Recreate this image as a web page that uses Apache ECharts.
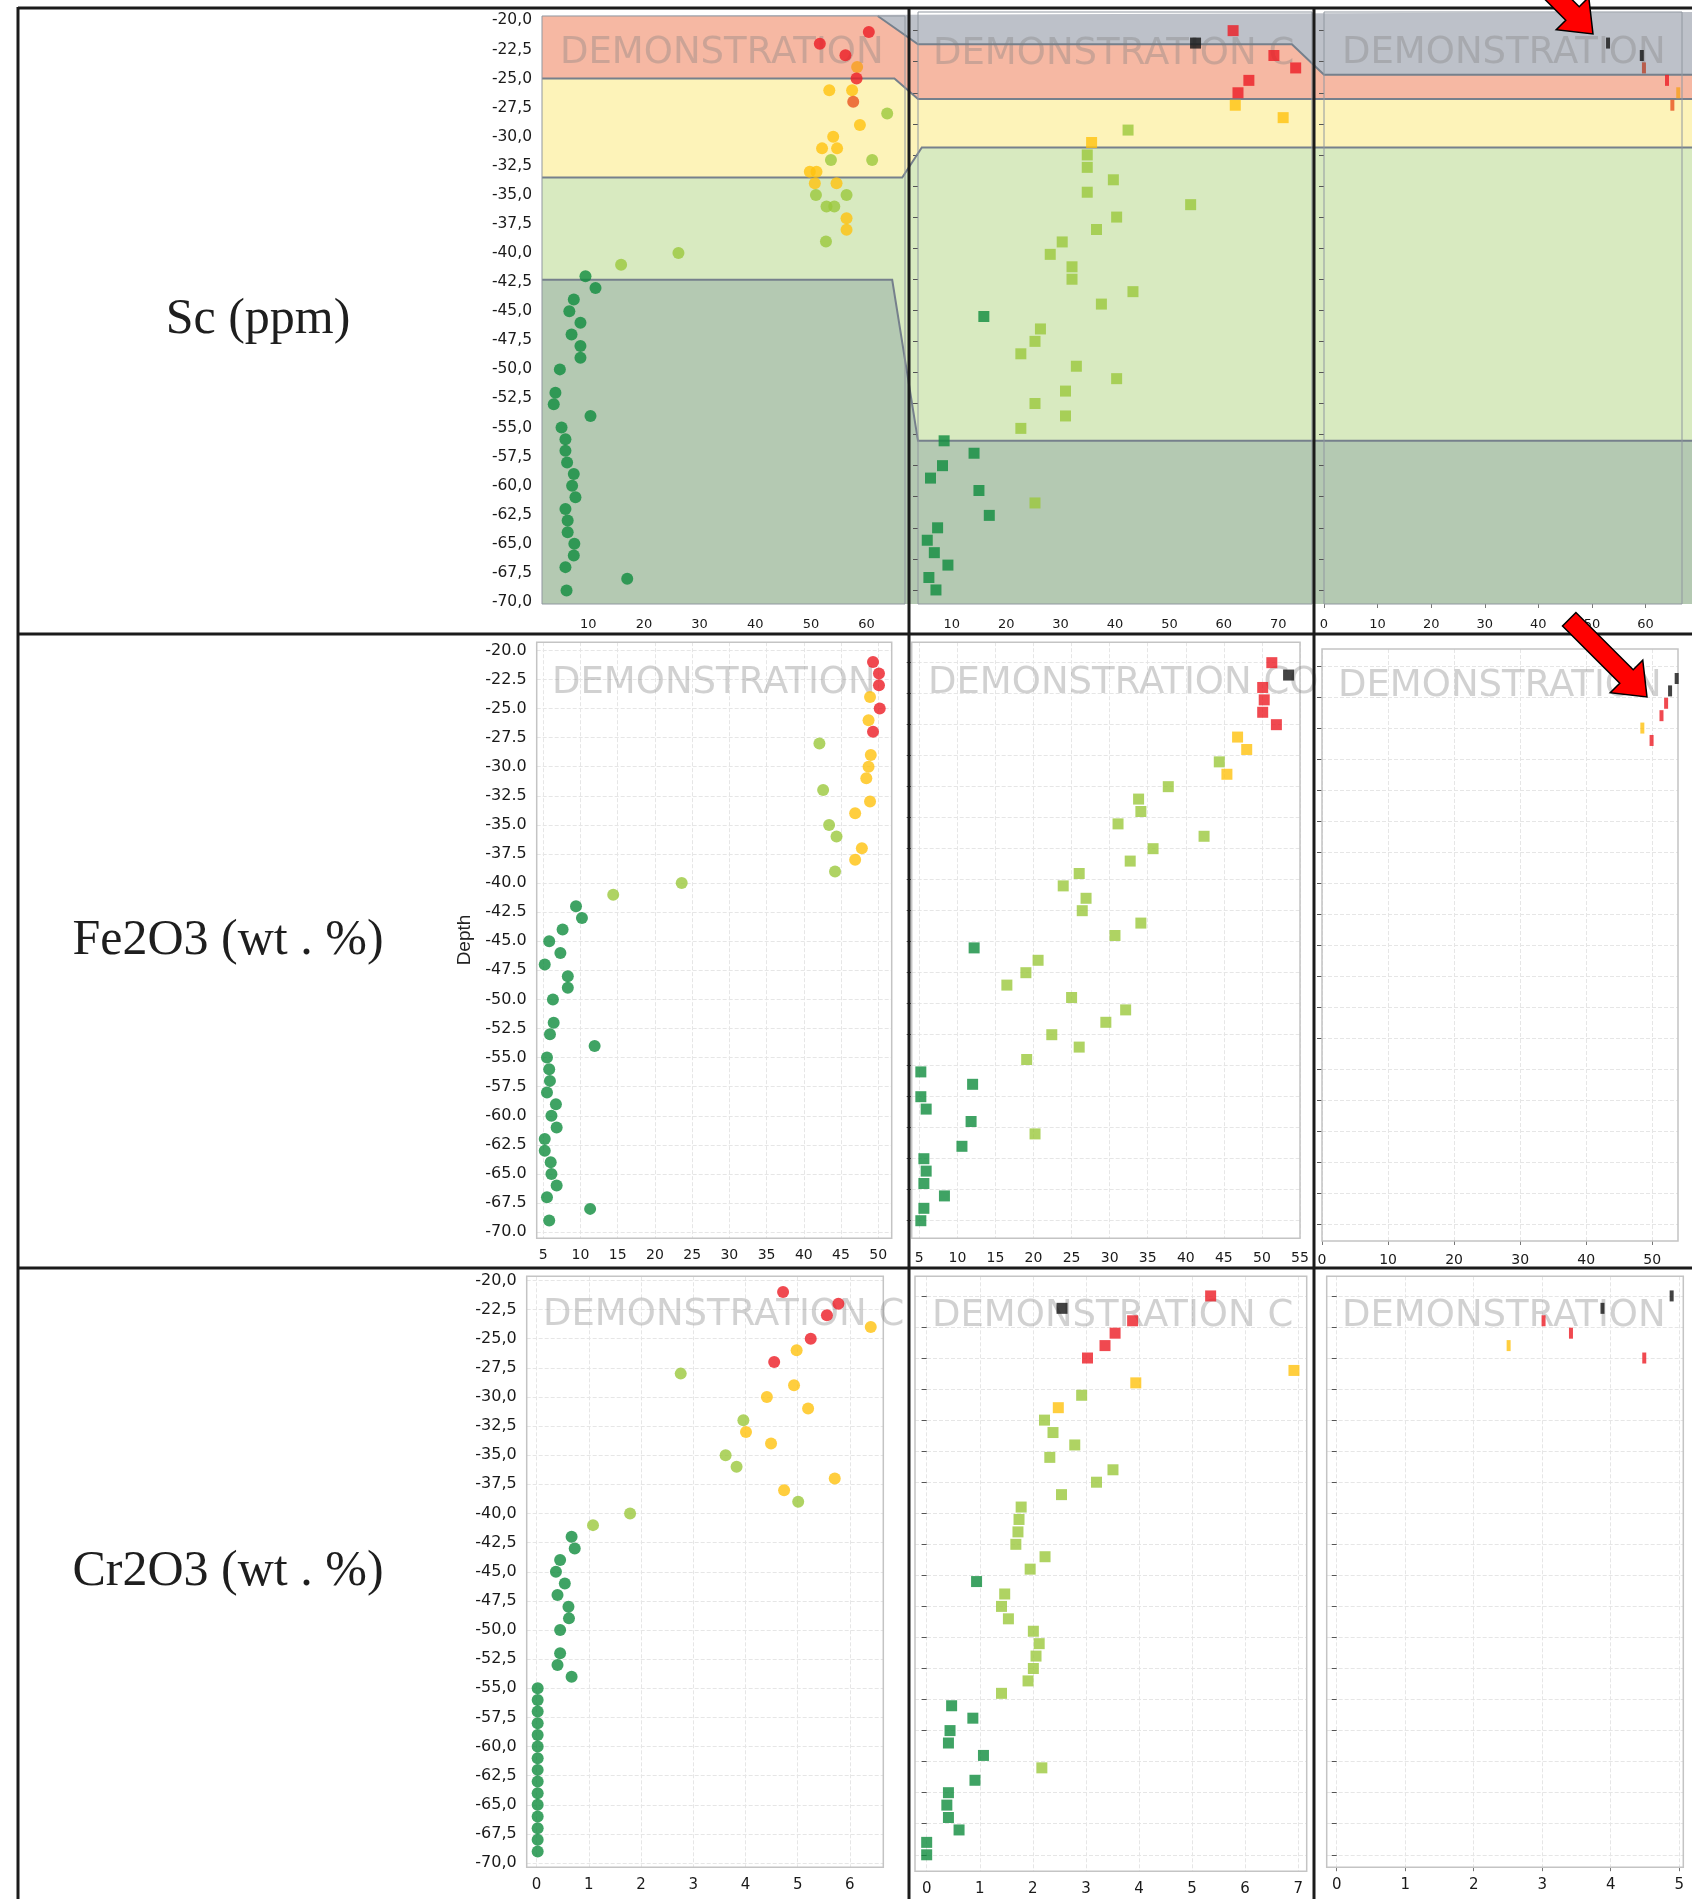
<!DOCTYPE html>
<html>
<head>
<meta charset="utf-8">
<script src="https://cdn.jsdelivr.net/npm/echarts@6/dist/echarts.min.js"></script>
<style>
html, body { margin: 0; padding: 0; background: #fff; }
#chart { width: 1692px; height: 1899px; }
</style>
</head>
<body>
<div id="chart"></div>
<script>
var chartDom = document.getElementById('chart');
var myChart = echarts.init(chartDom);

var rowLabels = ['Sc (ppm)', 'Fe2O3 (wt . %)', 'Cr2O3 (wt . %)'];
var watermark = 'DEMONSTRATION COPY';

// tick labels
var depthTicks = [-20, -22.5, -25, -27.5, -30, -32.5, -35, -37.5, -40, -42.5, -45, -47.5, -50, -52.5, -55, -57.5, -60, -62.5, -65, -67.5, -70];
var depthTicksShort = [-20, -22.5, -25, -27.5, -30, -32.5, -35, -37.5, -40, -42.5, -45, -47.5, -50, -52.5, -55, -57.5, -60, -62.5, -65];
var xTicks = [
  [10, 20, 30, 40, 50, 60], [10, 20, 30, 40, 50, 60, 70], [0, 10, 20, 30, 40, 50, 60],
  [5, 10, 15, 20, 25, 30, 35, 40, 45, 50], [5, 10, 15, 20, 25, 30, 35, 40, 45, 50, 55], [0, 10, 20, 30, 40, 50],
  [0, 1, 2, 3, 4, 5, 6], [0, 1, 2, 3, 4, 5, 6, 7], [0, 1, 2, 3, 4, 5]
];

// circles (first hole): Sc has some repeated depths, so kept as [value, depth, class]
var scCircles = [
  [60.4, -21, 'r'], [51.6, -22, 'r'], [56.2, -23, 'r'], [58.3, -24, 'o'], [58.2, -25, 'r'],
  [53.3, -26, 'y'], [57.4, -26, 'y'], [57.6, -27, 'x'], [63.7, -28, 'g'], [58.8, -29, 'y'],
  [54.0, -30, 'y'], [52.0, -31, 'y'], [54.7, -31, 'y'], [53.6, -32, 'g'], [61.0, -32, 'g'],
  [49.8, -33, 'y'], [51.0, -33, 'y'], [50.7, -34, 'y'], [54.6, -34, 'y'], [50.9, -35, 'g'],
  [56.4, -35, 'g'], [52.8, -36, 'g'], [54.2, -36, 'g'], [56.4, -37, 'y'], [56.4, -38, 'y'],
  [52.7, -39, 'g'], [26.2, -40, 'g'], [15.9, -41, 'g'], [9.5, -42, 'd'], [11.3, -43, 'd'],
  [7.4, -44, 'd'], [6.6, -45, 'd'], [8.6, -46, 'd'], [7.0, -47, 'd'], [8.6, -48, 'd'],
  [8.6, -49, 'd'], [4.9, -50, 'd'], [4.1, -52, 'd'], [3.8, -53, 'd'], [10.4, -54, 'd'],
  [5.2, -55, 'd'], [5.9, -56, 'd'], [5.9, -57, 'd'], [6.2, -58, 'd'], [7.4, -59, 'd'],
  [7.1, -60, 'd'], [7.7, -61, 'd'], [5.9, -62, 'd'], [6.3, -63, 'd'], [6.3, -64, 'd'],
  [7.5, -65, 'd'], [7.4, -66, 'd'], [5.9, -67, 'd'], [17.0, -68, 'd'], [6.1, -69, 'd']
];
var circleDepths = [-21, -22, -23, -24, -25, -26, -27, -28, -29, -30, -31, -32, -33, -34, -35, -36, -37, -38, -39, -40,
  -41, -42, -43, -44, -45, -46, -47, -48, -49, -50, -52, -53, -54, -55, -56, -57, -58, -59, -60, -61,
  -62, -63, -64, -65, -66, -67, -68, -69];
var circleClass = 'rrryryrgyyygyyggyygggddddddddddddddddddddddddddd';
var feCircles = [49.3, 50.1, 50.1, 48.9, 50.2, 48.7, 49.3, 42.1, 49.0, 48.7, 48.4, 42.6, 48.9, 46.9, 43.4, 44.4, 47.8, 46.9, 44.2, 23.6,
  14.4, 9.4, 10.2, 7.6, 5.8, 7.3, 5.2, 8.3, 8.3, 6.3, 6.4, 5.9, 11.9, 5.5, 5.8, 5.9, 5.5, 6.7, 6.1, 6.8,
  5.2, 5.2, 6.0, 6.1, 6.8, 5.5, 11.3, 5.8];
var crCircles = [4.72, 5.78, 5.56, 6.40, 5.25, 4.98, 4.55, 2.76, 4.93, 4.41, 5.20, 3.96, 4.01, 4.49, 3.62, 3.83, 5.71, 4.74, 5.01, 1.79,
  1.08, 0.67, 0.73, 0.45, 0.37, 0.54, 0.40, 0.61, 0.62, 0.45, 0.45, 0.40, 0.67, 0.02, 0.02, 0.02, 0.02, 0.02, 0.02, 0.02,
  0.02, 0.02, 0.02, 0.02, 0.02, 0.02, 0.02, 0.02];

// squares (second hole)
var squareDepths = [-20, -21, -22, -23, -24, -25, -26, -27, -28, -29, -30, -31, -32, -33, -34, -35, -36, -37, -38, -39,
  -40, -41, -42, -43, -44, -45, -46, -47, -48, -49, -50, -51, -52, -53, -54, -55, -56, -57, -58, -59,
  -60, -61, -62, -63, -64, -65];
var squareClass = 'rkrrrryygygggggggggggggdgggggggggdddddgddddddd';
var scSquares = [61.7, 54.8, 69.2, 73.2, 64.6, 62.6, 62.1, 70.9, 42.4, 35.7, 34.9, 34.9, 39.7, 34.9, 53.9, 40.3, 36.6, 30.3, 28.1, 32.1,
  32.1, 43.3, 37.5, 15.9, 26.3, 25.3, 22.7, 32.9, 40.3, 30.9, 25.3, 30.9, 22.7, 8.6, 14.1, 8.3, 6.1, 15.0, 25.3, 16.9,
  7.4, 5.5, 6.8, 9.3, 5.8, 7.1];
var feSquares = [51.3, 53.5, 50.1, 50.3, 50.1, 51.9, 46.8, 48.0, 44.4, 45.4, 37.7, 33.8, 34.1, 31.1, 42.4, 35.7, 32.7, 26.0, 23.9, 26.9,
  26.4, 34.1, 30.7, 12.2, 20.6, 19.0, 16.5, 25.0, 32.1, 29.5, 22.4, 26.0, 19.1, 5.2, 12.0, 5.2, 5.9, 11.8, 20.2, 10.6,
  5.6, 5.9, 5.6, 8.3, 5.6, 5.2];
var crSquares = [5.35, 2.55, 3.88, 3.55, 3.36, 3.03, 6.92, 3.94, 2.92, 2.48, 2.22, 2.38, 2.79, 2.32, 3.51, 3.20, 2.54, 1.78, 1.74, 1.72,
  1.68, 2.23, 1.95, 0.94, 1.47, 1.41, 1.54, 2.01, 2.12, 2.06, 2.01, 1.91, 1.41, 0.47, 0.87, 0.44, 0.41, 1.07, 2.17, 0.91,
  0.41, 0.38, 0.41, 0.61, 0.0, 0.0];

// thin bars (third hole)
var scBars = [[53.0, -21, 'k'], [59.3, -22, 'k'], [59.7, -23, 'b'], [64.0, -24, 'r'], [66.1, -25, 'o'], [65.0, -26, 'x']];
var feBars = [[53.7, -21, 'k'], [52.7, -22, 'k'], [52.1, -23, 'r'], [51.4, -24, 'r'], [48.5, -25, 'y'], [49.9, -26, 'r']];
var crBars = [[4.89, -20, 'k'], [3.88, -21, 'k'], [3.02, -22, 'r'], [3.42, -23, 'r'], [2.51, -24, 'y'], [4.49, -25, 'r']];

// Sc row zone boundaries: [panel, value, depth]
var zoneLines = [
  [[0, 1.69, -19.62], [2, 68.7, -18.5]],
  [[0, 1.69, -19.62], [0, 62.0, -19.62], [1, 3.8, -21.1], [1, 72.5, -21.1], [2, 0, -23.55], [2, 68.7, -23.55]],
  [[0, 1.69, -25.0], [0, 65.0, -25.0], [1, 3.8, -25.5], [2, 68.7, -25.5]],
  [[0, 1.69, -33.5], [0, 66.4, -33.5], [1, 4.5, -29.4], [2, 68.7, -29.4]],
  [[0, 1.69, -42.3], [0, 64.6, -42.3], [1, 3.8, -53.0], [2, 68.7, -53.0]],
  [[0, 1.69, -70.17], [2, 68.7, -66.13]]
];
var zoneColors = ['#bdc1c9', '#f6b8a3', '#fdf3b9', '#d8eac0', '#b4c9b2'];

var classColor = { r: '#ec1c24', y: '#ffc20e', o: '#f7a01d', x: '#e9531f', g: '#9bc83c', d: '#0f8c3d', k: '#141414', b: '#b8442c' };

// panel plot areas (pixels) and axis ranges
var panels = [
  { l: 542, t: 16, r: 905, b: 604, x0: 1.69, x1: 66.9, y0: -70.17, y1: -19.62 },
  { l: 918, t: 12, r: 1312, b: 604, x0: 3.8, x1: 76.2, y0: -66.13, y1: -18.5 },
  { l: 1324, t: 12, r: 1682, b: 604, x0: 0, x1: 66.8, y0: -66.13, y1: -18.5 },
  { l: 536.7, t: 642.2, r: 891.7, b: 1238.2, x0: 4.12, x1: 51.81, y0: -70.52, y1: -19.3 },
  { l: 911.7, t: 642.2, r: 1300, b: 1238.2, x0: 4.0, x1: 55.0, y0: -66.41, y1: -18.35 },
  { l: 1322, t: 649, r: 1678, b: 1241, x0: 0, x1: 53.9, y0: -66.39, y1: -18.62 },
  { l: 526.7, t: 1276.3, r: 883.3, b: 1867.2, x0: -0.19, x1: 6.64, y0: -70.35, y1: -19.65 },
  { l: 915, t: 1276.3, r: 1306.7, b: 1871.3, x0: -0.22, x1: 7.16, y0: -66.33, y1: -18.42 },
  { l: 1326.7, t: 1276.3, r: 1683.3, b: 1867.2, x0: -0.146, x1: 5.06, y0: -66.0, y1: -18.42 }
];
var xFont = [13, 14, 15];
var yFont = [15.5, 16, 16];
var xMargin = [14, 14, 14, 10, 13, 12, 10, 10, 10];

function byTriple(list) {
  return list.map(function (p) { return { value: [p[0], p[1]], itemStyle: { color: classColor[p[2]] } }; });
}
function byDepth(vals, depths, cls) {
  return vals.map(function (v, i) { return { value: [v, depths[i]], itemStyle: { color: classColor[cls[i]] } }; });
}

var marks = [
  [byTriple(scCircles), 'circle', 12], [byDepth(scSquares, squareDepths, squareClass), 'rect', 11], [byTriple(scBars), 'rect', [4, 11]],
  [byDepth(feCircles, circleDepths, circleClass), 'circle', 12], [byDepth(feSquares, squareDepths, squareClass), 'rect', 11], [byTriple(feBars), 'rect', [4, 11]],
  [byDepth(crCircles, circleDepths, circleClass), 'circle', 12], [byDepth(crSquares, squareDepths, squareClass), 'rect', 11], [byTriple(crBars), 'rect', [4, 11]]
];

var grids = [], xAxes = [], yAxes = [], series = [];
panels.forEach(function (p, i) {
  var row = Math.floor(i / 3), col = i % 3;
  grids.push({
    left: p.l, top: p.t, width: p.r - p.l, height: p.b - p.t,
    show: true, z: 1, backgroundColor: 'transparent',
    borderColor: row === 0 ? '#9097a0' : '#c4c4c4', borderWidth: row === 0 ? 1 : 1.5,
    containLabel: false, outerBoundsMode: 'none'
  });
  xAxes.push({
    gridIndex: i, type: 'value', min: p.x0, max: p.x1,
    axisLine: { show: false },
    axisTick: { show: col === 2, customValues: xTicks[i], length: 4, lineStyle: { color: '#777' } },
    axisLabel: { customValues: xTicks[i], fontSize: xFont[row], margin: xMargin[i], color: '#1a1a1a', fontFamily: 'DejaVu Sans' },
    splitLine: { show: row > 0, lineStyle: { color: '#e6e6e6', type: 'dashed' } }
  });
  var yt = col === 0 ? depthTicks : depthTicksShort;
  yAxes.push({
    gridIndex: i, type: 'value', min: p.y0, max: p.y1,
    axisLine: { show: false },
    axisTick: { show: col > 0, customValues: yt, length: 5, lineStyle: { color: '#555' } },
    axisLabel: {
      show: col === 0, customValues: yt, fontSize: yFont[row], margin: 10, color: '#1a1a1a', fontFamily: 'DejaVu Sans',
      formatter: function (v) { return v.toFixed(1).replace('.', row === 1 ? '.' : ','); }
    },
    splitLine: { show: row > 0, lineStyle: { color: '#e6e6e6', type: 'dashed' } }
  });
  series.push({
    type: 'scatter', xAxisIndex: i, yAxisIndex: i, z: 3, clip: false,
    symbol: marks[i][1], symbolSize: marks[i][2], data: marks[i][0]
  });
});

var option = {
  animation: false,
  backgroundColor: '#ffffff',
  grid: grids,
  xAxis: xAxes,
  yAxis: yAxes,
  series: series
};
myChart.setOption(option);

// decorations
var g = [];
var zonePx = zoneLines.map(function (line) {
  return line.map(function (q) { return myChart.convertToPixel({ gridIndex: q[0] }, [q[1], q[2]]); });
});
for (var k = 0; k < zoneColors.length; k++) {
  g.push({ type: 'polygon', z: 0, silent: true,
    shape: { points: zonePx[k].concat(zonePx[k + 1].slice().reverse()) },
    style: { fill: zoneColors[k] } });
}
for (k = 1; k < zonePx.length - 1; k++) {
  g.push({ type: 'polyline', z: 0.5, silent: true,
    shape: { points: zonePx[k].slice(k === 1 ? 1 : 0) },
    style: { stroke: '#76808c', lineWidth: 2, fill: null } });
}

var wm = [[560, 53, 362], [933, 54, 390], [1342, 53, 350],
  [552, 683, 360], [928, 683, 392], [1338, 686, 354],
  [543, 1315, 372], [932, 1316, 390], [1342, 1316, 350]];
wm.forEach(function (w) {
  g.push({ type: 'text', z: 1.5, silent: true, x: w[0], y: w[1],
    style: { text: watermark, font: '37px "DejaVu Sans"', fill: 'rgba(128,128,128,0.36)',
      textVerticalAlign: 'middle', width: w[2], overflow: 'truncate', ellipsis: '' } });
});

var labelPos = [[258, 320], [228, 941], [228, 1572]];
rowLabels.forEach(function (t, i) {
  g.push({ type: 'text', z: 10, x: labelPos[i][0], y: labelPos[i][1],
    style: { text: t, font: '50px "Liberation Serif"', fill: '#1e1e1e', textAlign: 'center', textVerticalAlign: 'middle' } });
});
g.push({ type: 'text', z: 10, x: 465, y: 940, rotation: Math.PI / 2,
  style: { text: 'Depth', font: '19px "Liberation Sans"', fill: '#222', textAlign: 'center', textVerticalAlign: 'middle' } });

// table rules
[[18, 7, 18, 1899], [909, 7, 909, 1899], [1314, 7, 1314, 1899],
 [18, 8, 1692, 8], [18, 634, 1692, 634], [18, 1268, 1692, 1268]].forEach(function (s) {
  g.push({ type: 'line', z: 10, silent: true, shape: { x1: s[0], y1: s[1], x2: s[2], y2: s[3] },
    style: { stroke: '#1b1b1b', lineWidth: 3 } });
});

// red arrows
var arrowShape = [[0, 0], [-29, -23], [-29, -9.5], [-110, -9.5], [-110, 9.5], [-29, 9.5], [-29, 23]];
[[1593, 34], [1647, 697]].forEach(function (a) {
  g.push({ type: 'polygon', z: 11, silent: true, x: a[0], y: a[1], rotation: -Math.PI / 4,
    shape: { points: arrowShape }, style: { fill: '#ff0000', stroke: '#000', lineWidth: 1.5 } });
});

myChart.setOption({ graphic: g });
</script>
</body>
</html>
